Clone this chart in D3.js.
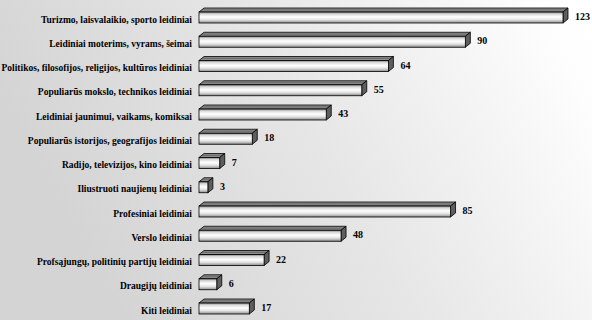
<!DOCTYPE html>
<html>
<head>
<meta charset="utf-8">
<script src="https://cdn.jsdelivr.net/npm/d3@7"></script>
<style>
  body { margin: 0; }
  svg { display: block; }
</style>
</head>
<body>
<svg width="592" height="320"></svg>
<script>
  const categories = [
    "Turizmo, laisvalaikio, sporto leidiniai",
    "Leidiniai moterims, vyrams, šeimai",
    "Politikos, filosofijos, religijos, kultūros leidiniai",
    "Populiarūs mokslo, technikos leidiniai",
    "Leidiniai jaunimui, vaikams, komiksai",
    "Populiarūs istorijos, geografijos leidiniai",
    "Radijo, televizijos, kino leidiniai",
    "Iliustruoti naujienų leidiniai",
    "Profesiniai leidiniai",
    "Verslo leidiniai",
    "Profsąjungų, politinių partijų leidiniai",
    "Draugijų leidiniai",
    "Kiti leidiniai"
  ];
  const values = [123, 90, 64, 55, 43, 18, 7, 3, 85, 48, 22, 6, 17];

  const svg = d3.select("svg"),
        width = +svg.attr("width"),
        height = +svg.attr("height");

  const dx = 5, dy = 4, frontH = 11;
  const font = "'Liberation Serif', 'Times New Roman', Times, serif";

  const x = d3.scaleLinear().domain([0, 123]).range([199, 563]);
  const y = d3.scalePoint().domain(categories).range([8, 299]);

  const defs = svg.append("defs");

  const bg = defs.append("linearGradient").attr("id", "bg")
    .attr("x1", 0).attr("x2", 1).attr("y1", 0.3).attr("y2", 0);
  bg.append("stop").attr("offset", "0%").attr("stop-color", "#d4d4d4");
  bg.append("stop").attr("offset", "45%").attr("stop-color", "#e6e6e6");
  bg.append("stop").attr("offset", "90%").attr("stop-color", "#fdfdfd");
  bg.append("stop").attr("offset", "100%").attr("stop-color", "#ffffff");

  const frontGrad = defs.append("linearGradient").attr("id", "front")
    .attr("x1", 0).attr("x2", 0).attr("y1", 0).attr("y2", 1);
  [["0%", "#7a7a7a"], ["18%", "#d8d8d8"], ["45%", "#ffffff"], ["70%", "#e4e4e4"], ["100%", "#8c8c8c"]]
    .forEach(([o, c]) => frontGrad.append("stop").attr("offset", o).attr("stop-color", c));

  const topGrad = defs.append("linearGradient").attr("id", "topface")
    .attr("x1", 0).attr("x2", 0).attr("y1", 0).attr("y2", 1);
  [["0%", "#9a9a9a"], ["50%", "#6e6e6e"], ["100%", "#b0b0b0"]]
    .forEach(([o, c]) => topGrad.append("stop").attr("offset", o).attr("stop-color", c));

  svg.append("rect").attr("width", width).attr("height", height).attr("fill", "url(#bg)");

  const rows = svg.selectAll("g.row")
    .data(categories.map((c, i) => ({ c, v: values[i] })))
    .enter().append("g")
    .attr("class", "row")
    .attr("transform", d => `translate(0, ${y(d.c)})`);

  // top face
  rows.append("path")
    .attr("d", d => {
      const x0 = x(0), x1 = x(d.v);
      return `M${x0},${dy} L${x0 + dx},0 L${x1 + dx},0 L${x1},${dy} Z`;
    })
    .attr("fill", "url(#topface)")
    .attr("stroke", "#000").attr("stroke-width", 0.8).attr("stroke-linejoin", "round");

  // end face
  rows.append("path")
    .attr("d", d => {
      const x1 = x(d.v);
      return `M${x1},${dy} L${x1 + dx},0 L${x1 + dx},${frontH} L${x1},${dy + frontH} Z`;
    })
    .attr("fill", "#5e5e5e")
    .attr("stroke", "#000").attr("stroke-width", 0.8).attr("stroke-linejoin", "round");

  // front face
  rows.append("rect")
    .attr("x", x(0))
    .attr("y", dy)
    .attr("width", d => x(d.v) - x(0))
    .attr("height", frontH)
    .attr("fill", "url(#front)")
    .attr("stroke", "#000").attr("stroke-width", 0.8);

  rows.append("text")
    .attr("x", 192)
    .attr("y", dy + frontH - 0.5)
    .attr("text-anchor", "end")
    .attr("font-family", font)
    .attr("font-weight", "bold")
    .attr("font-size", 9.5)
    .text(d => d.c);

  rows.append("text")
    .attr("x", d => x(d.v) + dx + 7)
    .attr("y", dy + 8)
    .attr("font-family", font)
    .attr("font-weight", "bold")
    .attr("font-size", 10)
    .text(d => d.v);
</script>
</body>
</html>
